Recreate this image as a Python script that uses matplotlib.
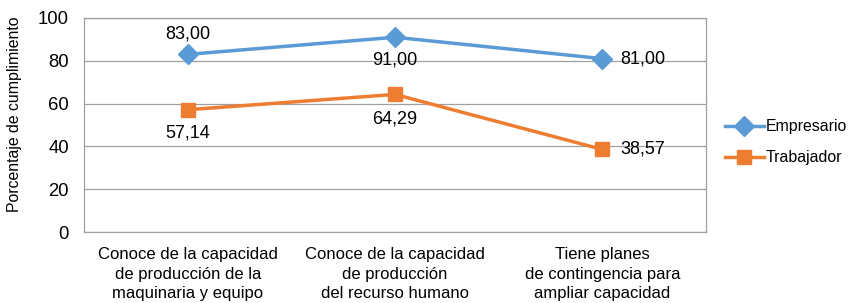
import matplotlib
matplotlib.use("Agg")
import matplotlib.pyplot as plt

plt.rcParams['font.family'] = ['Liberation Sans', 'DejaVu Sans']

categories = ["Conoce de la capacidad\nde producción de la\nmaquinaria y equipo",
              "Conoce de la capacidad\nde producción\ndel recurso humano",
              "Tiene planes\nde contingencia para\nampliar capacidad"]
empresario = [83.00, 91.00, 81.00]
trabajador = [57.14, 64.29, 38.57]
series_names = ["Empresario", "Trabajador"]
yticks = [0, 20, 40, 60, 80, 100]

blue = "#5B9BD5"
orange = "#ED7D31"

fig = plt.figure(figsize=(8.54, 3.03), dpi=100)
ax = fig.add_axes([0.0984, 0.2343, 0.8267 - 0.0984, 0.9406 - 0.2343])

x = list(range(len(categories)))
l1, = ax.plot(x, empresario, color=blue, lw=2.5, marker='D', markersize=10,
              label=series_names[0], zorder=3)
l2, = ax.plot(x, trabajador, color=orange, lw=2.5, marker='s', markersize=10.5,
              label=series_names[1], zorder=3)

def fmt(v):
    return f"{v:.2f}".replace('.', ',')

fs = 13
offsets_e = [(0, 14.5), (0, -16.5), (13, 0)]
offsets_t = [(0, -17), (0, -18), (13, 0)]
for i in range(3):
    dx, dy = offsets_e[i]
    ax.annotate(fmt(empresario[i]), (x[i], empresario[i]), xytext=(dx, dy),
                textcoords='offset points', ha='left' if dx else 'center',
                va='center', fontsize=fs)
    dx, dy = offsets_t[i]
    ax.annotate(fmt(trabajador[i]), (x[i], trabajador[i]), xytext=(dx, dy),
                textcoords='offset points', ha='left' if dx else 'center',
                va='center', fontsize=fs)

ax.set_xlim(-0.5, 2.5)
ax.set_ylim(0, 100)
ax.set_yticks(yticks)
ax.set_yticklabels([str(t) for t in yticks], fontsize=13.3)
ax.set_xticks(x)
ax.set_xticklabels(categories, fontsize=12, linespacing=1.36)
ax.tick_params(axis='both', length=0)
ax.tick_params(axis='x', pad=11)
ax.tick_params(axis='y', pad=11)
ax.grid(axis='y', color='#A0A0A0', lw=0.9)
ax.set_axisbelow(True)
for s in ax.spines.values():
    s.set_color('#A0A0A0')
    s.set_linewidth(0.9)

fig.text(15 / 854, 0.624, "Porcentaje de cumplimiento", rotation=90,
         ha='center', va='center', fontsize=11.4)

fig.legend(handles=[l1, l2], loc='center left', bbox_to_anchor=(725 / 854, 0.53),
           frameon=False, fontsize=11.4, handlelength=2.45, handletextpad=0.1,
           labelspacing=1.0, borderaxespad=0, borderpad=0)

fig.savefig("out.png", dpi=100)
